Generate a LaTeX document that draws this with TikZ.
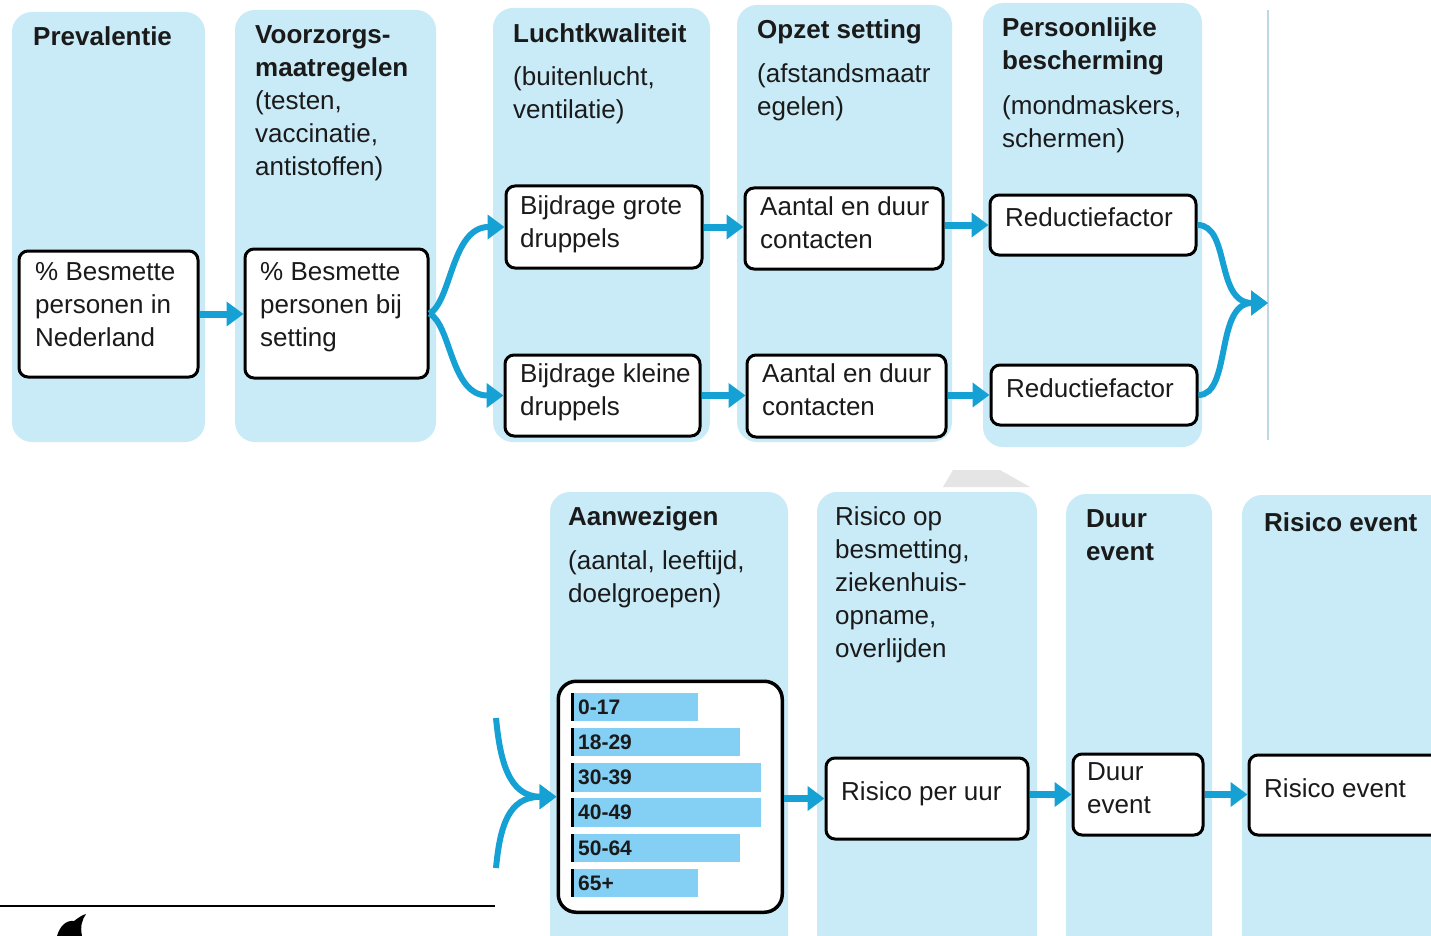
\documentclass[tikz,border=0pt]{standalone}
\usepackage{fontspec}
\setmainfont{Liberation Sans}
\usetikzlibrary{arrows.meta}
\definecolor{bgblue}{HTML}{C9EBF7}
\definecolor{arrowc}{HTML}{16A1D5}
\definecolor{barc}{HTML}{84CFF4}
\definecolor{txt}{HTML}{1A1A1A}
\definecolor{sepline}{HTML}{BCD9E3}
\definecolor{ghost}{HTML}{E5E5E5}
\begin{document}
\begin{tikzpicture}[x=1pt,y=-1pt,
  columnbg/.style={fill=bgblue, rounded corners=20pt},
  wbox/.style={draw=black, line width=3pt, fill=white, rounded corners=9pt, inner sep=0pt, anchor=north west},
  flow/.style={draw=arrowc, line width=7pt, -{Triangle[length=17pt,width=24pt]}},
  cflow/.style={draw=arrowc, line width=6pt, -{Triangle[length=17pt,width=24pt]}},
  head/.style={anchor=north west, inner sep=0pt, align=left, font=\fontsize{26}{33}\selectfont\bfseries, text=txt},
  body/.style={anchor=north west, inner sep=0pt, align=left, font=\fontsize{26}{33}\selectfont, text=txt},
  barlabel/.style={anchor=west, inner sep=0pt, font=\fontsize{21}{21}\selectfont\bfseries, text=txt},
  bar/.style={fill=barc},
  barline/.style={draw=black, line width=3pt}
  ]
\useasboundingbox (0,0) rectangle (1431,936);
\clip (0,0) rectangle (1431,936);
\fill[white] (0,0) rectangle (1431,936);

% column backgrounds
\path[columnbg] (12,12) rectangle (205,442);
\path[columnbg] (235,10) rectangle (436,442);
\path[columnbg] (493,8) rectangle (710,442);
\path[columnbg] (737,5) rectangle (952,442);
\path[columnbg] (983,3) rectangle (1202,447);
\path[columnbg] (550,492) rectangle (788,980);
\path[columnbg] (817,492) rectangle (1037,980);
\path[columnbg] (1066,494) rectangle (1212,980);
\path[columnbg] (1242,495) rectangle (1480,980);

% faint artefacts
\fill[ghost] (953,470) -- (1000,470) -- (1030,487) -- (943,487) -- cycle;
\draw[sepline, line width=1.2pt] (1268,10) -- (1268,440);
\draw[black, line width=1.5pt] (0,906) -- (495,906);
\fill[black] (57,936) .. controls (60,926) and (66,920) .. (74,921)
  .. controls (78,918) and (82,915) .. (86,914)
  .. controls (82,920) and (80,926) .. (82,936) -- cycle;

% column headings
\node[head] (hprev) at (33,26) {Prevalentie};
\node[body] (hvoor) at (255,25) {{\bfseries Voorzorgs-}\\{\bfseries maatregelen}\\(testen,\\vaccinatie,\\antistoffen)};
\node[head] (hlucht) at (513,23) {Luchtkwaliteit};
\node[body] (slucht) at (513,66) {(buitenlucht,\\ventilatie)};
\node[head] (hopzet) at (757,19) {Opzet setting};
\node[body] (sopzet) at (757,63) {(afstandsmaatr\\egelen)};
\node[head] (hpers) at (1002,17) {Persoonlijke\\bescherming};
\node[body] (spers) at (1002,95) {(mondmaskers,\\schermen)};
\node[head] (haanw) at (568,506) {Aanwezigen};
\node[body] (saanw) at (568,550) {(aantal, leeftijd,\\doelgroepen)};
\node[body] (hris) at (835,506) {Risico op\\besmetting,\\ziekenhuis-\\opname,\\overlijden};
\node[head] (hduur) at (1086,509) {Duur\\event};
\node[head] (hrev) at (1264,512) {Risico event};

% white boxes
\node[wbox, minimum width=179pt, minimum height=126pt] (b1) at (17.5,249.5) {};
\node[wbox, minimum width=183pt, minimum height=129pt] (b2) at (243.5,247.5) {};
\node[wbox, minimum width=196pt, minimum height=82pt] (b3) at (504.5,184.5) {};
\node[wbox, minimum width=195pt, minimum height=81pt] (b4) at (503.5,353.5) {};
\node[wbox, minimum width=198pt, minimum height=81pt] (b5) at (743.5,186.5) {};
\node[wbox, minimum width=199pt, minimum height=82pt] (b6) at (745.5,353.5) {};
\node[wbox, minimum width=206pt, minimum height=60pt] (b7) at (988.5,193.5) {};
\node[wbox, minimum width=206pt, minimum height=60pt] (b8) at (989.5,363.5) {};
\node[wbox, line width=3.5pt, rounded corners=18pt, minimum width=224pt, minimum height=231pt] (b9) at (556.5,679.5) {};
\node[wbox, minimum width=202pt, minimum height=81pt] (b10) at (824.5,756.5) {};
\node[wbox, minimum width=130pt, minimum height=81pt] (b11) at (1071.5,752.5) {};
\node[wbox, minimum width=220pt, minimum height=80pt] (b12) at (1247.5,753.5) {};

% box texts
\node[body] (t1) at (35,262) {\% Besmette\\personen in\\Nederland};
\node[body] (t2) at (260,262) {\% Besmette\\personen bij\\setting};
\node[body] (t3) at (520,195) {Bijdrage grote\\druppels};
\node[body] (t4) at (520,363) {Bijdrage kleine\\druppels};
\node[body] (t5) at (760,196) {Aantal en duur\\contacten};
\node[body] (t6) at (762,363) {Aantal en duur\\contacten};
\node[body] (t7) at (1005,207) {Reductiefactor};
\node[body] (t8) at (1006,378) {Reductiefactor};
\node[body] (t10) at (841,781) {Risico per uur};
\node[body] (t11) at (1087,762) {Duur\\event};
\node[body] (t12) at (1264,778) {Risico event};

% bar chart
\fill[bar] (573,693) rectangle (698,721);
\fill[bar] (573,728) rectangle (740,756);
\fill[bar] (573,763) rectangle (761,792);
\fill[bar] (573,798) rectangle (761,827);
\fill[bar] (573,834) rectangle (740,862);
\fill[bar] (573,869) rectangle (698,897);
\draw[barline] (572,693) -- (572,721);
\draw[barline] (572,728) -- (572,756);
\draw[barline] (572,763) -- (572,792);
\draw[barline] (572,798) -- (572,827);
\draw[barline] (572,834) -- (572,862);
\draw[barline] (572,869) -- (572,897);
\node[barlabel] (l1) at (578,707) {0-17};
\node[barlabel] (l2) at (578,742) {18-29};
\node[barlabel] (l3) at (578,777.5) {30-39};
\node[barlabel] (l4) at (578,812.5) {40-49};
\node[barlabel] (l5) at (578,848) {50-64};
\node[barlabel] (l6) at (578,883) {65+};

% free ends
\coordinate (m) at (1268,303);
\coordinate (c1) at (496,718);
\coordinate (c2) at (496,868);

% connectors
\draw[flow] (b1.east) -- (b2.west |- b1.east);
\draw[cflow] (b2.east) .. controls +(22,-12) and +(-53,0) .. (b3.west);
\draw[cflow] (b2.east) .. controls +(22,12) and +(-53,0) .. (b4.west);
\draw[flow] (b3.east) -- (b5.west |- b3.east);
\draw[flow] (b4.east) -- (b6.west |- b4.east);
\draw[flow] (b5.east |- b7.west) -- (b7.west);
\draw[flow] (b6.east |- b8.west) -- (b8.west);
\draw[cflow] (b7.east) .. controls +(33,0) and +(-53,0) .. (m);
\draw[cflow] (b8.east) .. controls +(33,0) and +(-53,0) .. (m);
\draw[cflow] (c1) .. controls +(4,42) and +(-48,0) .. (b9.west);
\draw[cflow] (c2) .. controls +(4,-42) and +(-48,0) .. (b9.west);
\draw[flow] (b9.east |- b10.west) -- (b10.west);
\draw[flow] (b10.east |- b11.west) -- (b11.west);
\draw[flow] (b11.east) -- (b12.west |- b11.east);
\end{tikzpicture}
\end{document}
